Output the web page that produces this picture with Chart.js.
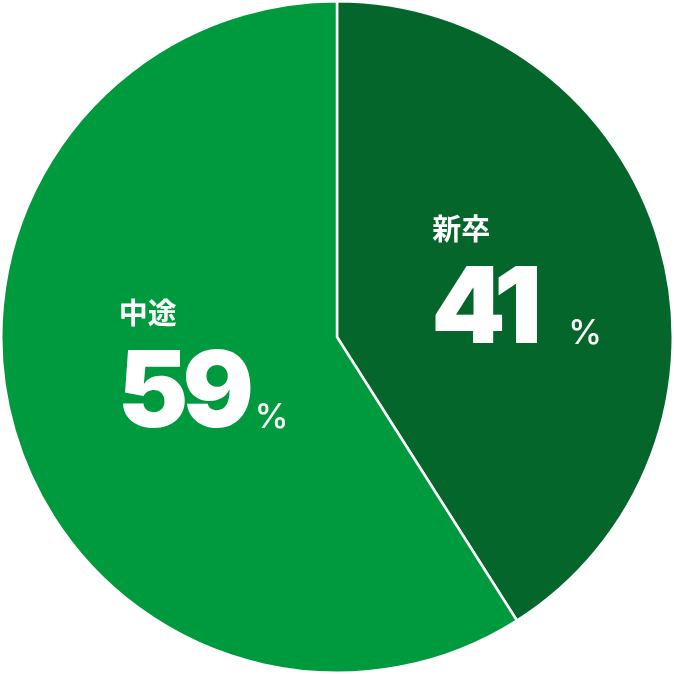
<!DOCTYPE html>
<html>
<head>
<meta charset="utf-8">
<script src="https://cdn.jsdelivr.net/npm/chart.js@4"></script>
<style>
  html, body { margin: 0; padding: 0; background: #ffffff; }
  #wrap { width: 674px; height: 674px; }
</style>
</head>
<body>
<div id="wrap"><canvas id="chart"></canvas></div>
<script>
const categories = ['新卒', '中途'];
const shares = [41, 59];
const sliceColors = ['#05662c', '#009a3e'];

// draws the label block (title, big number, %) inside each slice
const sliceLabels = {
    id: 'sliceLabels',
    afterDatasetsDraw(chart, args, opts) {
        const ctx = chart.ctx;
        const meta = chart.getDatasetMeta(0);
        meta.data.forEach((arc, i) => {
            const p = arc.tooltipPosition();
            const off = opts.offsets[i];
            const left = p.x + off[0];
            const base = p.y + off[1];
            ctx.save();
            ctx.fillStyle = '#ffffff';
            ctx.textAlign = 'left';
            ctx.textBaseline = 'middle';
            ctx.font = 'bold 29px "Noto Sans CJK JP", sans-serif';
            ctx.fillText(chart.data.labels[i], left - 1, base - 114);
            ctx.textBaseline = 'alphabetic';
            ctx.font = '900 106px Inter, "Noto Sans", sans-serif';
            ctx.letterSpacing = '-6px';
            ctx.fillText(String(chart.data.datasets[0].data[i]), left - 2, base);
            ctx.letterSpacing = '0px';
            ctx.font = '500 34px Inter, "Noto Sans", sans-serif';
            ctx.fillText('%', left + 135, base + 1);
            ctx.restore();
        });
    }
};

new Chart(document.getElementById('chart'), {
    type: 'pie',
    data: {
        labels: categories,
        datasets: [{
            data: shares,
            backgroundColor: sliceColors,
            borderColor: '#ffffff',
            borderWidth: 2.5
        }]
    },
    options: {
        responsive: true,
        maintainAspectRatio: false,
        animation: false,
        events: [],
        layout: { padding: 0 },
        plugins: {
            legend: { display: false },
            tooltip: { enabled: false },
            sliceLabels: { offsets: [[-65, 53], [-56, 43]] }
        }
    },
    plugins: [sliceLabels]
});
</script>
</body>
</html>
